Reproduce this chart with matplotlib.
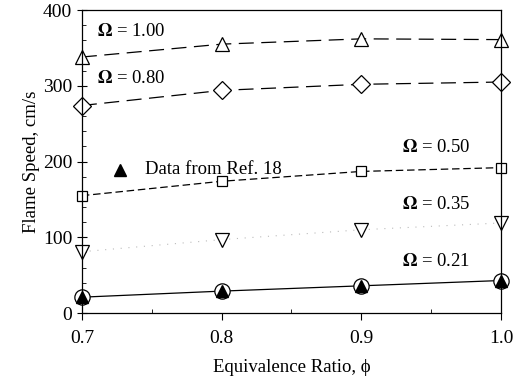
import matplotlib
matplotlib.use("Agg")
import matplotlib.pyplot as plt
from matplotlib.ticker import MultipleLocator

plt.rcParams['font.family'] = ['Liberation Serif', 'DejaVu Serif']
plt.rcParams['mathtext.fontset'] = 'stix'

# Data
phi = [0.7, 0.8, 0.9, 1.0]
s_100 = [338, 355, 362, 361]
s_080 = [274, 294, 302, 305]
s_050 = [155, 174, 187, 192]
s_035 = [81, 97, 110, 119]
s_021 = [21, 29, 36, 43]
ref18 = [21, 29, 36, 43]
xticks = [0.7, 0.8, 0.9, 1.0]
xtick_labels = ['0.7', '0.8', '0.9', '1.0']

fig = plt.figure(figsize=(5.15, 3.87), dpi=100)
ax = fig.add_axes([0.159, 0.191, 0.814, 0.783])

mk = dict(markersize=10, markerfacecolor='white', markeredgecolor='black',
          markeredgewidth=0.9, clip_on=False, color='black')

ax.plot(phi, s_100, marker='^', linestyle=(0, (12, 6)), lw=0.9, **mk)
ax.plot(phi, s_080, marker='D', linestyle=(0, (12, 6)), lw=0.9, **{**mk, 'markersize': 9})
ax.plot(phi, s_050, marker='s', linestyle=(0, (6, 3)), lw=0.9, **{**mk, 'markersize': 7.5})
ax.plot(phi, s_035, color='#bbbbbb', linestyle=(0, (1, 6)), lw=0.8)
ax.plot(phi, s_035, marker='v', linestyle='none', **mk)
ax.plot(phi, s_021, marker='o', linestyle='-', lw=0.9, **{**mk, 'markersize': 11})
ax.plot(phi, ref18, marker='^', linestyle='none', markersize=8,
        markerfacecolor='black', markeredgecolor='black', clip_on=False)

# legend-like annotation
ax.plot([0.727], [189], marker='^', markersize=8, color='black', linestyle='none')
ax.text(0.745, 189, 'Data from Ref. 18', fontsize=13.5, va='center', ha='left')

lab = dict(fontsize=13.5, va='center')
ax.text(0.711, 372, r'$\mathbf{\Omega}$ = 1.00', ha='left', **lab)
ax.text(0.711, 309, r'$\mathbf{\Omega}$ = 0.80', ha='left', **lab)
ax.text(0.978, 218, r'$\mathbf{\Omega}$ = 0.50', ha='right', **lab)
ax.text(0.978, 143, r'$\mathbf{\Omega}$ = 0.35', ha='right', **lab)
ax.text(0.978, 68, r'$\mathbf{\Omega}$ = 0.21', ha='right', **lab)

ax.set_xlim(0.7, 1.0)
ax.set_ylim(0, 400)
ax.set_xticks(xticks)
ax.set_xticklabels(xtick_labels)
ax.set_xticks([0.75, 0.85, 0.95], minor=True)
ax.yaxis.set_major_locator(MultipleLocator(100))
ax.yaxis.set_minor_locator(MultipleLocator(20))
ax.tick_params(axis='x', which='major', direction='out', length=5, labelsize=14, pad=7)
ax.tick_params(axis='x', which='minor', direction='in', length=3)
ax.tick_params(axis='y', which='major', direction='inout', length=7, labelsize=14)
ax.tick_params(axis='y', which='minor', direction='in', length=3)

for sp in ax.spines.values():
    sp.set_linewidth(0.9)

ax.set_xlabel('Equivalence Ratio, ϕ', fontsize=13.5, labelpad=9)
ax.set_ylabel('Flame Speed, cm/s', fontsize=13.5, labelpad=2)

fig.savefig('out.png', dpi=100)
